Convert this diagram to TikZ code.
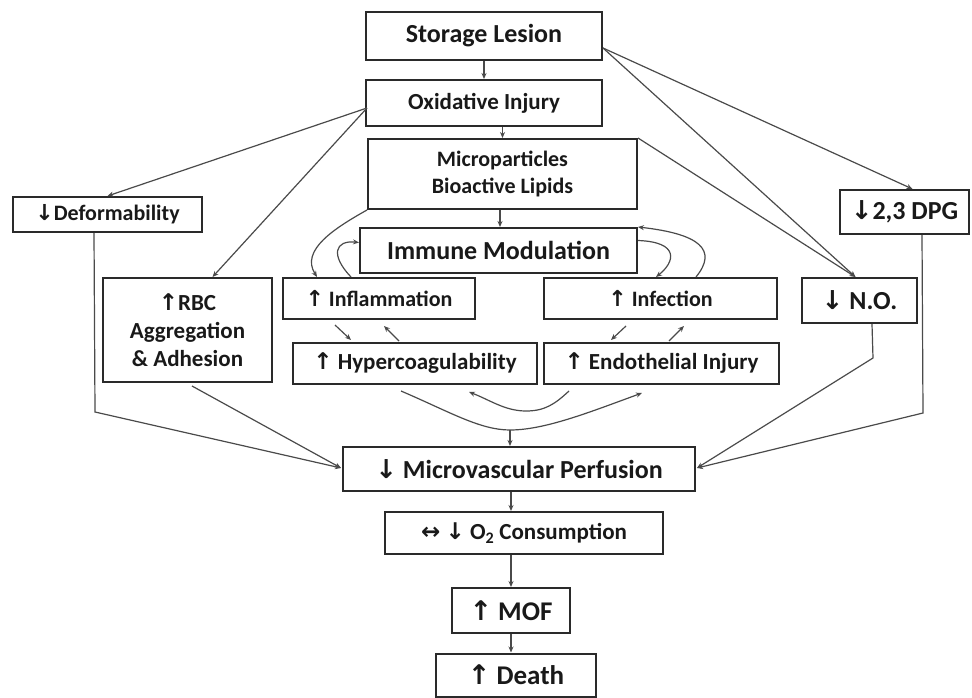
\documentclass[tikz,border=0pt]{standalone}
\usepackage{fontspec}
\setmainfont{Carlito}
\newfontfamily\arrfont{DejaVu Sans}
\usetikzlibrary{arrows.meta,calc}
\newcommand\myup{{\arrfont\char"2191}}
\newcommand\mydown{{\arrfont\char"2193}}
\newcommand\mylr{{\arrfont\char"2194}}
\newcommand\fs[1]{\fontsize{#1}{#1}\selectfont}
\newcommand\fsb[2]{\fontsize{#1}{#2}\selectfont}
\definecolor{boxc}{HTML}{2A2A2A}
\definecolor{linec}{HTML}{4A4A4A}
\tikzset{
  box/.style={draw=boxc, line width=2pt, fill=white, inner sep=0pt, align=center, font=\bfseries, text=black!90},
  conn/.style={draw=linec, line width=1.2pt, -{Stealth[length=6pt,width=5pt]}},
  plain/.style={draw=linec, line width=1.2pt}
}
\begin{document}
\begin{tikzpicture}[x=1pt,y=-1pt]
\useasboundingbox (0,0) rectangle (972,698);
% nodes
\node[box, minimum width=236, minimum height=48, font=\bfseries\fs{26}] (storage) at (484,36) {Storage Lesion};
\node[box, minimum width=236, minimum height=46, font=\bfseries\fs{23}] (oxid) at (484,103) {Oxidative Injury};
\node[box, minimum width=269, minimum height=70, font=\bfseries\fsb{22}{27}] (micro) at (502.5,174) {Microparticles\\Bioactive Lipids};
\node[box, minimum width=277, minimum height=45, font=\bfseries\fs{26}] (immune) at (498.5,250.5) {Immune Modulation};
\node[box, minimum width=192, minimum height=41, font=\bfseries\fs{22}] (infl) at (379,298.5) {\myup{} Inflammation};
\node[box, minimum width=233, minimum height=41, font=\bfseries\fs{22}] (infec) at (660.5,298.5) {\myup{} Infection};
\node[box, minimum width=244, minimum height=41, font=\bfseries\fs{23}] (hyper) at (415,363.5) {\myup{} Hypercoagulability};
\node[box, minimum width=235, minimum height=41, font=\bfseries\fs{23}] (endo) at (661.5,363.5) {\myup{} Endothelial Injury};
\node[box, minimum width=189, minimum height=35, font=\bfseries\fs{22}] (deform) at (107.5,214.5) {\mydown Deformability};
\node[box, minimum width=169, minimum height=104, font=\bfseries\fsb{23}{28}] (rbc) at (187.5,330) {\myup RBC\\Aggregation\\\& Adhesion};
\node[box, minimum width=129, minimum height=44, font=\bfseries\fs{26}] (dpg) at (904.5,212) {\mydown 2,3 DPG};
\node[box, minimum width=115, minimum height=45, font=\bfseries\fs{26}] (no) at (859.5,300.5) {\mydown{} N.O.};
\node[box, minimum width=352, minimum height=44, font=\bfseries\fs{26}] (perf) at (519,469) {\mydown{} Microvascular Perfusion};
\node[box, minimum width=278, minimum height=42, font=\bfseries\fs{23}] (otwo) at (524,533) {\mylr{} \mydown{} O\textsubscript{2} Consumption};
\node[box, minimum width=118, minimum height=45, font=\bfseries\fs{27}] (mof) at (511,610.5) {\myup{} MOF};
\node[box, minimum width=160, minimum height=43, font=\bfseries\fs{27}] (death) at (516,675) {\myup{} Death};
% helper coordinates
\coordinate (junc) at (510,430);
\coordinate (dbend) at (95,412);
\coordinate (nbend) at (873,358);
\coordinate (pbend) at (923,413);
% vertical chain
\draw[conn] (storage.south) -- (oxid.north);
\draw[conn] (oxid.south -| micro.north) -- (micro.north);
\draw[conn] (micro.south -| 500,0) -- (immune.north -| 500,0);
% from oxidative
\draw[conn] ($(oxid.west)+(2,5)$) -- (deform.north);
\draw[conn] ($(oxid.west)+(2,5)$) -- ($(rbc.north)+(25,0)$);
% from storage
\draw[conn] ($(storage.east)+(0,12)$) -- ($(dpg.north)+(8,0)$);
\draw[conn] ($(storage.east)+(0,12)$) -- ($(no.north)+(-4,0)$);
\draw[conn] (micro.north east) -- ($(no.north)+(-4,0)$);
% loops around immune modulation
\draw[conn] (micro.south west) .. controls (335,228) and (300,250) .. ($(infl.north west)+(35,0)$);
\draw[conn] ($(infl.north west)+(69,0)$) .. controls (330,255) and (335,240) .. ($(immune.west)+(0,-8)$);
\draw[conn] ($(immune.east)+(0,-10)$) .. controls (680,242) and (675,262) .. ($(infec.north west)+(113,0)$);
\draw[conn] ($(infec.north west)+(153,0)$) .. controls (718,250) and (700,234) .. (immune.north east);
% inflammation / hypercoagulability
\draw[conn] ($(infl.south west)+(53,5)$) -- ($(hyper.north west)+(59,-2)$);
\draw[conn] ($(hyper.north west)+(107,-1)$) -- ($(infl.south west)+(102,6)$);
\draw[conn] ($(infec.south west)+(83,6)$) -- ($(endo.north west)+(68,-2)$);
\draw[conn] ($(endo.north west)+(126,-1)$) -- ($(infec.south west)+(141,6)$);
% crossing curves under hyper / endo
\draw[conn] ($(hyper.south west)+(109,6)$) .. controls (450,412) and (480,430) .. (junc) .. controls (545,430) and (590,412) .. ($(endo.south west)+(99,8)$);
\draw[conn] ($(endo.south west)+(26,6)$) .. controls (555,404) and (545,411) .. (526,411) .. controls (505,411) and (490,400) .. ($(hyper.south west)+(177,7)$);
\draw[conn] (junc) -- (junc |- perf.north);
% into microvascular perfusion
\draw[conn] ($(deform.south west)+(82,0)$) -- (dbend) -- ($(perf.west)+(-1,-1)$);
\draw[conn] ($(rbc.south west)+(90,3)$) -- ($(perf.west)+(-1,-1)$);
\draw[conn] ($(no.south west)+(71,0)$) -- (nbend) -- ($(perf.east)+(1,-1)$);
\draw[conn] ($(dpg.south west)+(83,0)$) -- (pbend) -- ($(perf.east)+(1,-1)$);
% lower chain
\draw[conn] (perf.south -| mof.north) -- (otwo.north -| mof.north);
\draw[conn] (otwo.south -| mof.north) -- (mof.north);
\draw[conn] (mof.south) -- (mof.south |- death.north);
\end{tikzpicture}
\end{document}
